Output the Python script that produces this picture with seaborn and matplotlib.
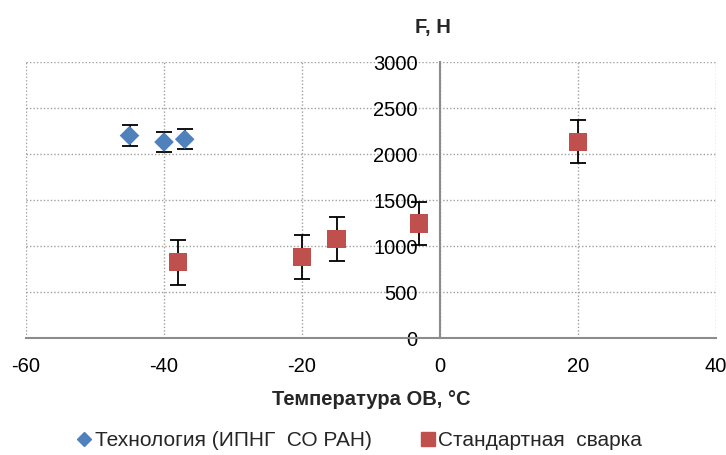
import matplotlib
matplotlib.use("Agg")
import matplotlib.pyplot as plt
import seaborn as sns
import pandas as pd
from matplotlib.lines import Line2D

sns.set_theme(style="white")
plt.rcParams['font.family'] = ['Liberation Sans', 'DejaVu Sans']

# Data
tech_x = [-45, -40, -37]
tech_y = [2200, 2130, 2160]
tech_err = [110, 110, 110]

std_x = [-38, -20, -15, -3, 20]
std_y = [825, 880, 1075, 1245, 2135]
std_err = [245, 240, 240, 235, 230]

series_names = ["Технология (ИПНГ  СО РАН)", "Стандартная  сварка"]
colors = ["#4F81BD", "#C0504D"]

xticks = [-60, -40, -20, 0, 20, 40]
yticks = [0, 500, 1000, 1500, 2000, 2500, 3000]

df = pd.DataFrame({
    "x": tech_x + std_x,
    "y": tech_y + std_y,
    "s": [series_names[0]] * len(tech_x) + [series_names[1]] * len(std_x),
})

fig = plt.figure(figsize=(7.26, 4.55), dpi=100)
ax = fig.add_axes([26/726, 1-338/455, 690/726, 276/455])

# error bars
ax.errorbar(tech_x, tech_y, yerr=tech_err, fmt='none', ecolor='black', elinewidth=1.3, capsize=5.5, capthick=1.3, zorder=3)
ax.errorbar(std_x, std_y, yerr=std_err, fmt='none', ecolor='black', elinewidth=1.3, capsize=5.5, capthick=1.3, zorder=3)

sns.scatterplot(data=df, x="x", y="y", hue="s", style="s",
                markers={series_names[0]: "D", series_names[1]: "s"},
                palette=dict(zip(series_names, colors)),
                size="s", sizes={series_names[0]: 100, series_names[1]: 170},
                edgecolor="none", linewidth=0, ax=ax, legend=False, zorder=4)

ax.set_xlim(-60, 40)
ax.set_ylim(0, 3000)
ax.set_xticks(xticks)
ax.set_yticks(yticks)

ax.grid(True, color="#a0a0a0", linestyle=(0, (1, 1.5)), linewidth=1.0)
for s in ax.spines.values():
    s.set_visible(False)
ax.spines['left'].set_visible(True)
ax.spines['left'].set_position(('data', 0))
ax.spines['left'].set_color('#8c8c8c')
ax.spines['left'].set_linewidth(1.5)
ax.spines['bottom'].set_visible(True)
ax.spines['bottom'].set_position(('data', 0))
ax.spines['bottom'].set_color('#8c8c8c')
ax.spines['bottom'].set_linewidth(1.5)
ax.set_axisbelow(True)

ax.tick_params(axis='x', direction='in', length=4, color='#8c8c8c', pad=14, labelsize=14.5, labelcolor='black')
ax.tick_params(axis='y', direction='out', length=0, pad=16, labelsize=14.5, labelcolor='black')
ax.set_xticklabels([str(t) for t in xticks])
ax.set_yticklabels([str(t) for t in yticks])

ax.set_xlabel("Температура ОВ, °С", fontsize=14.5, fontweight='bold', labelpad=10)
ax.set_ylabel("")
fig.text(433/726, 1-27/455, "F, H", fontsize=14.5, fontweight='bold', ha='center', va='center')

handles = [
    Line2D([], [], marker='D', color=colors[0], linestyle='none', markersize=7),
    Line2D([], [], marker='s', color=colors[1], linestyle='none', markersize=10),
]
fig.legend(handles, series_names, loc='center', bbox_to_anchor=(358/726, 1-441/455),
           ncol=2, frameon=False, fontsize=15, handletextpad=0.0, columnspacing=2.2,
           handlelength=1.0)

fig.savefig("out.png", dpi=100)
